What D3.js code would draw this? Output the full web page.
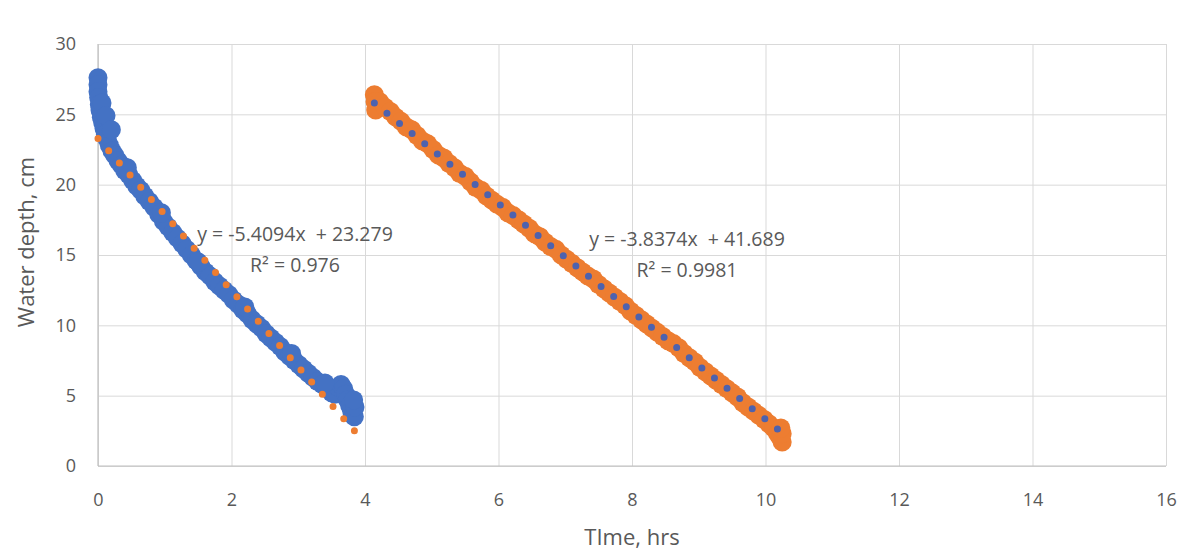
<!DOCTYPE html>
<html>
<head>
<meta charset="utf-8">
<script src="https://cdn.jsdelivr.net/npm/d3@7"></script>
<style>
  body { margin: 0; background: #fff; }
  svg { display: block; font-family: "Open Sans", sans-serif; }
</style>
</head>
<body>
<svg id="chart"></svg>
<script>
// series 1 (blue): time in hrs, water depth in cm
const blueTime = [0, 0, 0, 0.01, 0.02, 0.03, 0.05, 0.07, 0.09, 0.11, 0.14, 0.17, 0.21, 0.25, 0.3, 0.35, 0.4, 0.46, 0.52, 0.58,
  0.64, 0.7, 0.77, 0.84, 0.91, 0.98, 1.05, 1.12, 1.19, 1.26, 1.33, 1.4, 1.47, 1.54, 1.61, 1.68, 1.75, 1.82, 1.89, 1.96,
  2.03, 2.1, 2.17, 2.24, 2.31, 2.38, 2.45, 2.52, 2.59, 2.66, 2.73, 2.8, 2.87, 2.94, 3.01, 3.08, 3.15, 3.22, 3.29, 3.36,
  3.43, 3.5, 3.55, 3.6, 3.64, 3.68, 3.71, 3.74, 3.77, 3.8, 3.82, 3.84, 3.85, 3.83,
  0.06, 0.12, 0.2, 0.44, 0.95, 1.5, 2.2, 2.9, 3.4];
const blueDepth = [27.6, 27.1, 26.6, 26.2, 25.7, 25.3, 24.8, 24.4, 24.0, 23.6, 23.2, 22.8, 22.4, 22.1, 21.7, 21.4, 21.0, 20.7, 20.3, 19.9,
  19.6, 19.2, 18.8, 18.4, 17.9, 17.4, 17.0, 16.6, 16.2, 15.8, 15.4, 15.0, 14.6, 14.2, 13.8, 13.5, 13.1, 12.8, 12.5, 12.2,
  11.8, 11.5, 11.1, 10.8, 10.4, 10.1, 9.8, 9.4, 9.1, 8.8, 8.5, 8.1, 7.8, 7.5, 7.2, 6.9, 6.6, 6.3, 6.0, 5.8,
  5.5, 5.2, 5.1, 5.6, 5.8, 5.5, 5.1, 4.7, 4.3, 3.9, 3.6, 3.5, 4.2, 4.7,
  25.8, 24.9, 23.9, 21.2, 18.0, 14.5, 11.3, 8.0, 5.9];

// series 2 (orange)
const orangeTime = [4.14, 4.15, 4.16, 4.22, 4.3, 4.38, 4.46, 4.54, 4.62, 4.7, 4.78, 4.86, 4.94, 5.02, 5.1, 5.18, 5.26, 5.34, 5.42, 5.5,
  5.58, 5.66, 5.74, 5.82, 5.9, 5.98, 6.06, 6.14, 6.22, 6.3, 6.38, 6.46, 6.54, 6.62, 6.7, 6.78, 6.86, 6.94, 7.02, 7.1,
  7.18, 7.26, 7.34, 7.42, 7.5, 7.58, 7.66, 7.74, 7.82, 7.9, 7.98, 8.06, 8.14, 8.22, 8.3, 8.38, 8.46, 8.54, 8.62, 8.7,
  8.78, 8.86, 8.94, 9.02, 9.1, 9.18, 9.26, 9.34, 9.42, 9.5, 9.58, 9.66, 9.74, 9.82, 9.9, 9.98, 10.05, 10.12, 10.18, 10.22,
  10.25, 10.25, 10.23];
const orangeDepth = [26.4, 25.9, 25.3, 25.9, 25.5, 25.2, 24.8, 24.5, 24.1, 23.9, 23.5, 23.1, 22.9, 22.5, 22.1, 21.9, 21.5, 21.2, 20.8, 20.6,
  20.2, 19.8, 19.6, 19.2, 18.9, 18.6, 18.4, 18.0, 17.8, 17.5, 17.2, 16.9, 16.5, 16.3, 15.9, 15.6, 15.4, 15.0, 14.7, 14.4,
  14.1, 13.8, 13.5, 13.3, 12.9, 12.6, 12.3, 12.0, 11.7, 11.4, 11.0, 10.7, 10.4, 10.1, 9.8, 9.5, 9.2, 8.9, 8.7, 8.4,
  8.0, 7.7, 7.4, 7.0, 6.7, 6.4, 6.1, 5.8, 5.5, 5.2, 4.9, 4.5, 4.2, 3.9, 3.6, 3.3, 3.0, 2.7, 2.3, 2.0,
  1.7, 2.3, 2.7];

// linear trendlines as printed on the chart
const trendSlope = [-5.4094, -3.8374];
const trendIntercept = [23.279, 41.689];
const trendFrom = [0, 4.14];
const trendTo = [3.85, 10.25];
const trendLabel = ["y = -5.4094x  + 23.279", "y = -3.8374x  + 41.689"];
const trendR2 = ["R\u00b2 = 0.976", "R\u00b2 = 0.9981"];

const xTicks = [0, 2, 4, 6, 8, 10, 12, 14, 16];
const yTicks = [0, 5, 10, 15, 20, 25, 30];

const layout = {width: 1185, height: 551, left: 98, right: 1166, top: 44, bottom: 466};

const svg = d3.select("#chart")
  .attr("width", layout.width)
  .attr("height", layout.height);

svg.append("rect").attr("width", layout.width).attr("height", layout.height).attr("fill", "#fff");

const x = d3.scaleLinear().domain([0, 16]).range([layout.left, layout.right]);
const y = d3.scaleLinear().domain([0, 30]).range([layout.bottom, layout.top]);

// gridlines + tick labels
const yAxis = svg.append("g")
  .attr("transform", `translate(${layout.left},0)`)
  .call(d3.axisLeft(y).tickValues(yTicks).tickSize(-(layout.right - layout.left)).tickPadding(22));
const xAxis = svg.append("g")
  .attr("transform", `translate(0,${layout.bottom})`)
  .call(d3.axisBottom(x).tickValues(xTicks).tickSize(-(layout.bottom - layout.top)).tickPadding(27));

[xAxis, yAxis].forEach(g => {
  g.select(".domain").remove();
  g.selectAll(".tick line").attr("stroke", "#d9d9d9").attr("stroke-width", 1);
  g.selectAll(".tick text").attr("fill", "#595959").attr("font-size", 18).attr("font-family", "Open Sans");
});

// axis lines
svg.append("line").attr("x1", x(0)).attr("x2", x(16)).attr("y1", y(0)).attr("y2", y(0))
  .attr("stroke", "#bfbfbf").attr("stroke-width", 1.2);
svg.append("line").attr("x1", x(0)).attr("x2", x(0)).attr("y1", y(0)).attr("y2", y(30))
  .attr("stroke", "#bfbfbf").attr("stroke-width", 1.2);

// markers
const blueData = blueTime.map((t, i) => ({t: t, d: blueDepth[i]}));
const orangeData = orangeTime.map((t, i) => ({t: t, d: orangeDepth[i]}));

svg.append("g").selectAll("circle")
  .data(blueData)
  .join("circle")
  .attr("cx", d => x(d.t))
  .attr("cy", d => y(d.d))
  .attr("r", 9.5)
  .attr("fill", "#4472c4");

svg.append("g").selectAll("circle")
  .data(orangeData)
  .join("circle")
  .attr("cx", d => x(d.t))
  .attr("cy", d => y(d.d))
  .attr("r", 9.5)
  .attr("fill", "#ed7d31");

// trendlines (round dotted)
const trendColor = ["#ed7d31", "#4d62ae"];
const line = d3.line().x(d => x(d[0])).y(d => y(d[1]));
trendSlope.forEach((m, i) => {
  const pts = [trendFrom[i], trendTo[i]].map(t => [t, m * t + trendIntercept[i]]);
  svg.append("path")
    .attr("d", line(pts))
    .attr("fill", "none")
    .attr("stroke", trendColor[i])
    .attr("stroke-width", 7)
    .attr("stroke-linecap", "round")
    .attr("stroke-dasharray", "0 16.2");
});

// trendline labels
const labelX = [295, 687];
const labelY = [241, 246];
trendLabel.forEach((txt, i) => {
  const g = svg.append("g").attr("fill", "#595959").attr("font-size", 19.5).attr("text-anchor", "middle");
  g.append("text").attr("x", labelX[i]).attr("y", labelY[i]).attr("xml:space", "preserve").text(txt);
  g.append("text").attr("x", labelX[i]).attr("y", labelY[i] + 31).text(trendR2[i]);
});

// axis titles
svg.append("text")
  .attr("transform", `translate(34,${(layout.top + layout.bottom) / 2 - 13}) rotate(-90)`)
  .attr("text-anchor", "middle")
  .attr("fill", "#595959")
  .attr("font-size", 22)
  .text("Water depth, cm");

svg.append("text")
  .attr("x", (layout.left + layout.right) / 2)
  .attr("y", 545)
  .attr("text-anchor", "middle")
  .attr("fill", "#595959")
  .attr("font-size", 22)
  .text("TIme, hrs");
</script>
</body>
</html>
